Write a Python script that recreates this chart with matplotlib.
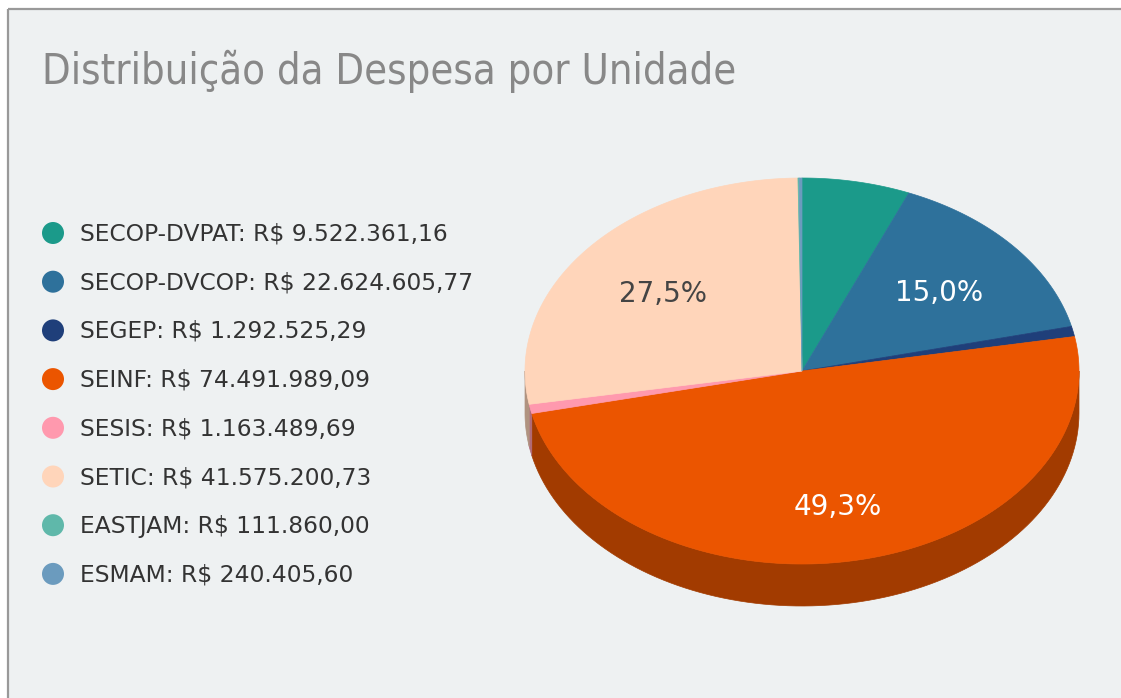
import numpy as np
import matplotlib
matplotlib.use("Agg")
import matplotlib.pyplot as plt
from matplotlib.patches import Polygon, Circle, Rectangle
from matplotlib.colors import to_rgb

units = ["SECOP-DVPAT", "SECOP-DVCOP", "SEGEP", "SEINF", "SESIS", "SETIC", "EASTJAM", "ESMAM"]
values = [9522361.16, 22624605.77, 1292525.29, 74491989.09, 1163489.69, 41575200.73, 111860.00, 240405.60]
colors = ["#1b9a8a", "#2e719b", "#1f3f7a", "#eb5500", "#ff99ae", "#ffd5ba", "#5fb8aa", "#6b9bbe"]
title = "Distribuição da Despesa por Unidade"

W, H = 1121, 698
bg = "#eef1f2"

# pie geometry in pixels
cx, cy = 802, 371
rx, ry = 277, 193
depth = 42


def brl(v):
    s = f"{v:,.2f}"
    return s.replace(",", "X").replace(".", ",").replace("X", ".")


def pt(theta):
    # theta in degrees, clockwise from 12 o'clock
    t = np.radians(theta)
    return cx + rx * np.sin(t), cy - ry * np.cos(t)


def darker(c, f=0.69):
    r, g, b = to_rgb(c)
    return (r * f, g * f, b * f)


fig = plt.figure(figsize=(W / 100, H / 100), dpi=100)
fig.patch.set_facecolor("white")
ax = fig.add_axes([0, 0, 1, 1])
ax.set_xlim(0, W)
ax.set_ylim(H, 0)
ax.axis("off")

# panel with grey border at top and left
ax.add_patch(Rectangle((8, 8.5), W, H, facecolor=bg, edgecolor="none", zorder=0))
ax.plot([7.5, W], [8.5, 8.5], color="#999999", lw=1.6, zorder=1, solid_capstyle="butt")
ax.plot([7.5, 7.5], [8.5, H], color="#999999", lw=1.6, zorder=1, solid_capstyle="butt")

ax.text(42, 84, title, fontsize=29.9, color="#888888", ha="left", va="baseline",
        family="DejaVu Sans", fontstretch="condensed")

# legend
leg_y0, leg_dy = 233, 48.7
for i, (u, v, c) in enumerate(zip(units, values, colors)):
    y = leg_y0 + i * leg_dy
    ax.add_patch(Circle((53, y), 11, facecolor=c, edgecolor="none", zorder=3))
    ax.text(80, y + 1, f"{u}: R$ {brl(v)}", fontsize=16.8, color="#333333",
            ha="left", va="center", family="DejaVu Sans")

# pie
total = sum(values)
fracs = [v / total for v in values]
starts = np.cumsum([0] + fracs[:-1]) * 360
ends = np.cumsum(fracs) * 360

# front walls
for s, e, c in zip(starts, ends, colors):
    a, b = max(s, 90), min(e, 270)
    if b <= a:
        continue
    th = np.linspace(a, b, 100)
    xs, ys = pt(th)
    verts = list(zip(xs, ys)) + list(zip(xs[::-1], ys[::-1] + depth))
    ax.add_patch(Polygon(verts, closed=True, facecolor=darker(c),
                         edgecolor=darker(c), lw=0.5, zorder=2))

# top faces
for s, e, c in zip(starts, ends, colors):
    n = max(3, int((e - s) * 2))
    th = np.linspace(s, e, n)
    xs, ys = pt(th)
    verts = [(cx, cy)] + list(zip(xs, ys))
    ax.add_patch(Polygon(verts, closed=True, facecolor=c, edgecolor=c,
                         lw=0.5, zorder=3))

# percentage labels
for s, e, f, c in zip(starts, ends, fracs, colors):
    if f < 0.1:
        continue
    m = np.radians((s + e) / 2)
    lx = cx + 0.65 * rx * np.sin(m)
    ly = cy - 0.65 * ry * np.cos(m) + 3 + 10 * max(0, -np.cos(m))
    r, g, b = to_rgb(c)
    lum = 0.299 * r + 0.587 * g + 0.114 * b
    tc = "#444444" if lum > 0.7 else "white"
    ax.text(lx, ly, f"{f * 100:.1f}%".replace(".", ","), fontsize=20,
            color=tc, ha="center", va="center", zorder=4, family="DejaVu Sans")

fig.savefig("out.png", dpi=100, facecolor=fig.get_facecolor())
